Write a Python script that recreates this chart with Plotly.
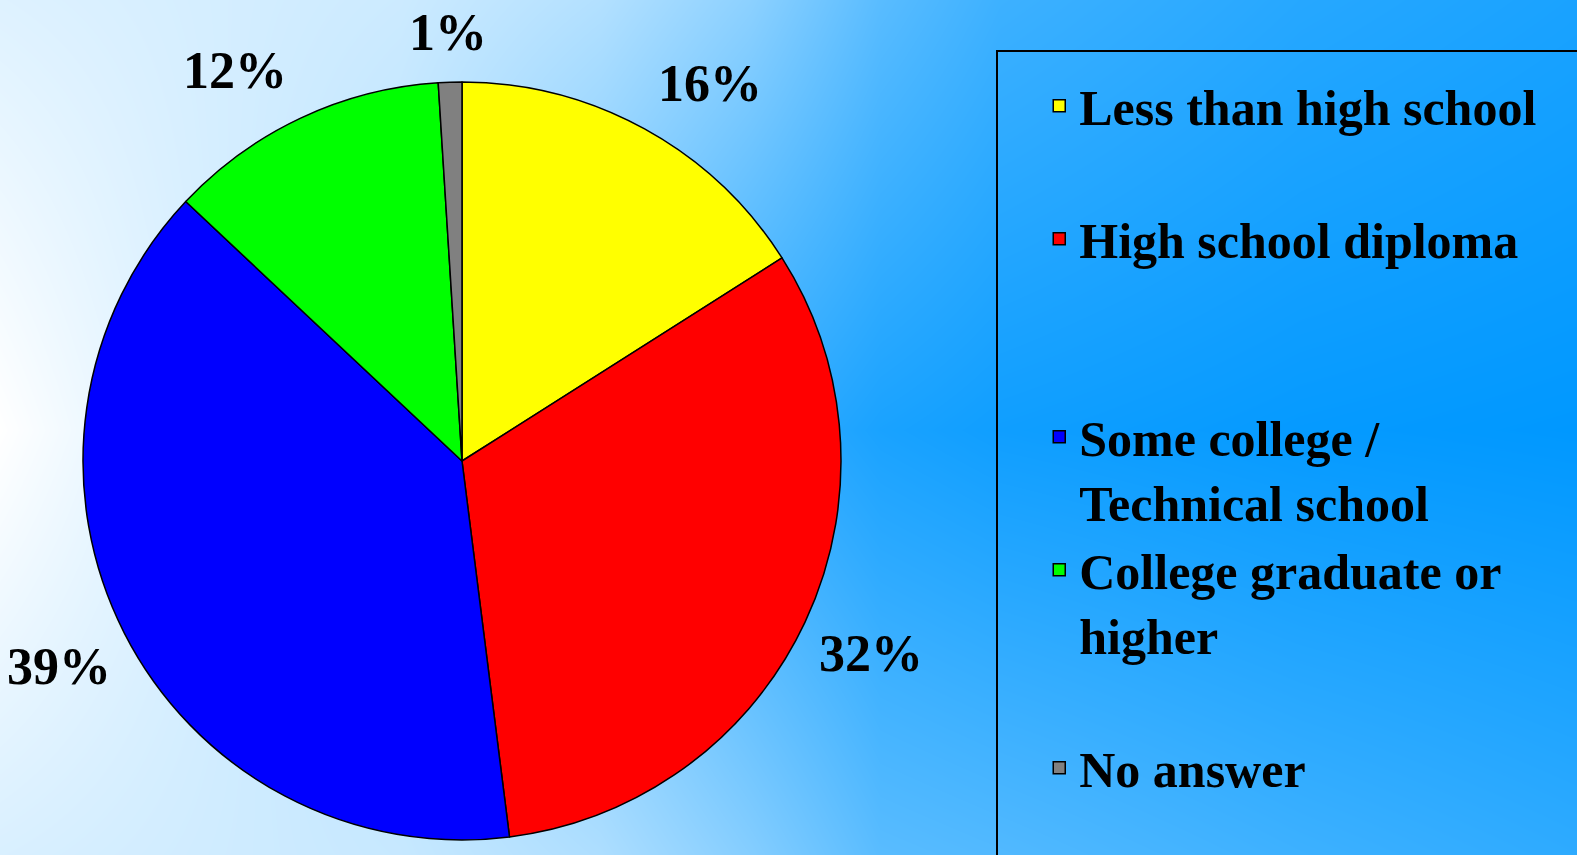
import math
import plotly.graph_objects as go

# ---------------- data ----------------
categories = ["Less than high school", "High school diploma",
              "Some college / Technical school", "College graduate or higher",
              "No answer"]
values = [16, 32, 39, 12, 1]
slice_colors = ["#ffff00", "#ff0000", "#0000ff", "#00ff00", "#808080"]

# legend display text (wrapping + blank padding lines to space the entries)
legend_text = ["Less than high school<br>\u00a0",
               "High school diploma<br>\u00a0<br>\u00a0",
               "Some college /<br>Technical school",
               "College graduate or<br>higher<br>\u00a0",
               "No answer"]

# ---------------- layout constants ----------------
W, H = 1577, 855
CX, CY, R = 462, 461, 379          # pie centre / radius in pixels
LABEL_R = 452                      # distance of % labels from centre
LABEL_NUDGE_DEG = [4.5, 0, 0, -5, 0]   # small angular offsets to avoid crowding

# background gradient control grid (0 = white, 1 = full blue)
bg_x = [0, 400, 600, 750, 880, 1000, 1300, 1577]
bg_y = [0, 430, 855]
bg_t = [
    [0.13, 0.20, 0.30, 0.45, 0.65, 0.76, 0.85, 0.90],
    [0.00, 0.30, 0.60, 0.80, 0.90, 0.94, 0.98, 1.00],
    [0.15, 0.22, 0.32, 0.48, 0.65, 0.68, 0.76, 0.82],
]

fig = go.Figure()

fig.add_trace(go.Heatmap(
    x=bg_x, y=bg_y, z=bg_t, zmin=0, zmax=1, zsmooth="best",
    colorscale=[[0, "#ffffff"], [1, "#0098ff"]], showscale=False,
    hoverinfo="skip", xaxis="x", yaxis="y", showlegend=False,
))

fig.add_trace(go.Pie(
    labels=legend_text, values=values, sort=False, direction="clockwise",
    rotation=0, textinfo="none", hoverinfo="label+percent",
    marker=dict(colors=slice_colors, line=dict(color="#000000", width=1.5)),
    domain=dict(x=[(CX - R) / W, (CX + R) / W],
                y=[1 - (CY + R) / H, 1 - (CY - R) / H]),
    showlegend=True,
))

# percentage labels placed along each slice's mid-angle
total = sum(values)
annotations = []
cum = 0
for v, nudge in zip(values, LABEL_NUDGE_DEG):
    theta = 2 * math.pi * (cum + v / 2) / total + math.radians(nudge)
    cum += v
    px = CX + LABEL_R * math.sin(theta)
    py = CY - LABEL_R * math.cos(theta)
    py = max(py, 32)
    annotations.append(dict(
        x=px / W, y=1 - py / H, xref="paper", yref="paper",
        text=f"{round(100 * v / total)}%", showarrow=False,
        xanchor="center", yanchor="middle",
        font=dict(family="Liberation Serif", size=52, color="#000000",
                  weight="bold"),
    ))

fig.update_layout(
    width=W, height=H,
    margin=dict(l=0, r=0, t=0, b=0),
    paper_bgcolor="#ffffff", plot_bgcolor="#ffffff",
    xaxis=dict(range=[0, W], visible=False, domain=[0, 1], fixedrange=True),
    yaxis=dict(range=[H, 0], visible=False, domain=[0, 1], fixedrange=True),
    annotations=annotations,
    legend=dict(
        x=0.659, y=0.922, xanchor="left", yanchor="top",
        bgcolor="rgba(0,0,0,0)", borderwidth=0, valign="top",
        font=dict(family="Liberation Serif", size=50, color="#000000",
                  weight="bold"),
    ),
    shapes=[dict(type="rect", xref="paper", yref="paper",
                 x0=997 / W, x1=1.02, y0=-0.02, y1=1 - 51 / H,
                 line=dict(color="#000000", width=2),
                 fillcolor="rgba(0,0,0,0)", layer="above")],
    showlegend=True,
)

fig.write_html("out.html",
               config={"displayModeBar": False},
               post_script="document.body.style.margin='0';"
                           "document.body.style.overflow='hidden';")
